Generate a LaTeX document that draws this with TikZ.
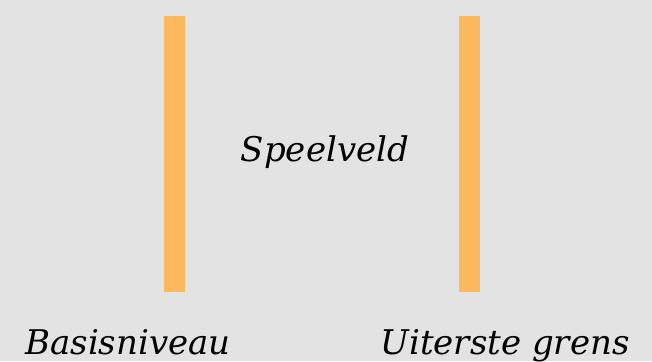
\documentclass[tikz,border=0pt]{standalone}
\usepackage{fontspec}
\setmainfont{DejaVu Serif}
\definecolor{bg}{HTML}{E3E3E3}
\definecolor{bar}{HTML}{FCB85C}
\begin{document}
\begin{tikzpicture}[x=1pt,y=1pt,
  lbl/.style={font=\fontsize{34}{40}\selectfont\itshape, anchor=base, inner sep=0pt, text=black},
  barbox/.style={fill=bar, draw=none}]
\fill[bg] (0,0) rectangle (652,361);
\useasboundingbox (0,0) rectangle (652,361);
\path[barbox] (164,69) rectangle (185,345);
\path[barbox] (459,69) rectangle (480,345);
\node[lbl] (speel) at (325,199) {Speelveld};
\node[lbl] (basis) at (128,7) {Basisniveau};
\node[lbl] (grens) at (505,7) {Uiterste grens};
\end{tikzpicture}
\end{document}
